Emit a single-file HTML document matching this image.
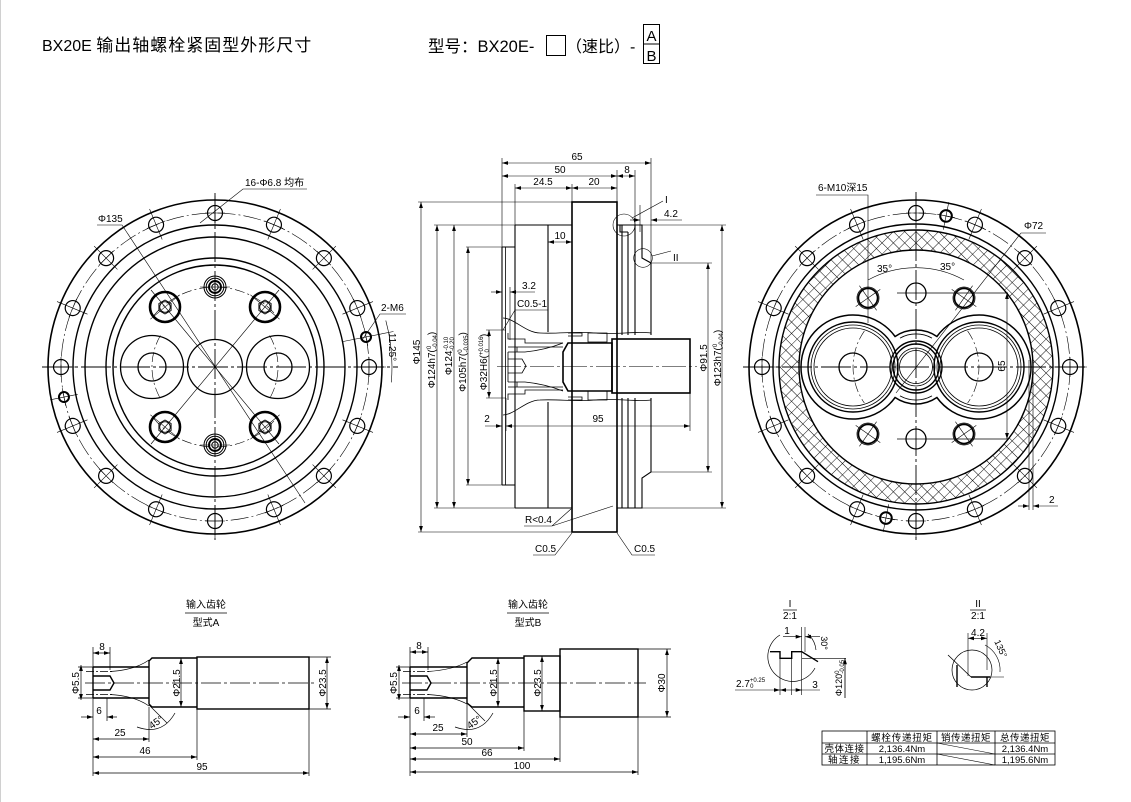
<!DOCTYPE html>
<html><head><meta charset="utf-8">
<style>
html,body{margin:0;padding:0;background:#fff;width:1131px;height:802px;overflow:hidden}
svg{display:block}
text{font-family:"Liberation Sans","Noto Sans CJK SC",sans-serif;fill:#000;stroke:none}
.d{font-size:10px}
.t{font-size:9.5px}
</style></head><body>
<svg width="1131" height="802" viewBox="0 0 1131 802" xmlns="http://www.w3.org/2000/svg">
<defs>
<marker id="a" viewBox="0 0 10 10" refX="10" refY="5" markerWidth="6" markerHeight="6" orient="auto-start-reverse" markerUnits="userSpaceOnUse"><path d="M0,1.8 L10,5 L0,8.2z" fill="#000" stroke="none"/></marker>
<pattern id="h" width="8" height="8" patternUnits="userSpaceOnUse" patternTransform="rotate(45)"><path d="M0,0 H8 M0,0 V8" stroke="#000" stroke-width="0.9" fill="none"/></pattern>
<g id="bh"><circle cx="154" cy="0" r="7.5" fill="none" stroke="#000" stroke-width="1.2"/><path d="M138 0H171M154 -10V10" stroke="#000" stroke-width="0.6" fill="none"/></g>
<g id="th"><circle r="15" fill="none" stroke="#000" stroke-width="2.6"/><polygon points="0,-7 6.1,-3.5 6.1,3.5 0,7 -6.1,3.5 -6.1,-3.5" fill="none" stroke="#000" stroke-width="0.9"/><circle r="5.3" fill="none" stroke="#000" stroke-width="0.9"/></g>
<g id="sh"><circle r="11" fill="none" stroke="#000" stroke-width="1"/><circle r="8.8" fill="none" stroke="#000" stroke-width="1"/><circle r="6" fill="none" stroke="#000" stroke-width="1.9"/><circle r="3.2" fill="none" stroke="#000" stroke-width="1"/><path d="M-15 0H15" stroke="#000" stroke-width="0.6"/></g>
<g id="ah"><circle r="11" fill="none" stroke="#000" stroke-width="0.8"/><circle r="9.6" fill="none" stroke="#000" stroke-width="1.7"/></g>
</defs>
<rect x="0" y="0" width="1131" height="802" fill="#fff"/>
<line x1="0.5" y1="0" x2="0.5" y2="802" stroke="#d0d0d0" stroke-width="1"/>

<!-- HEADER -->
<text x="42" y="51" font-size="16">BX20E <tspan font-size="17" letter-spacing="1">输出轴螺栓紧固型外形尺寸</tspan></text>
<text x="428" y="52" font-size="16.5">型号：BX20E-</text>
<rect x="546.5" y="35.5" width="19" height="20" fill="none" stroke="#000" stroke-width="1"/>
<text x="566" y="52" font-size="16">（速比）-</text>
<rect x="643.5" y="24.5" width="16" height="39" fill="none" stroke="#000" stroke-width="1"/>
<line x1="643.5" y1="44" x2="659.5" y2="44" stroke="#000" stroke-width="1"/>
<text x="651.5" y="41" font-size="15" text-anchor="middle">A</text>
<text x="651.5" y="61" font-size="15" text-anchor="middle">B</text>

<!-- LEFT VIEW -->
<g transform="translate(215,367)" fill="none" stroke="#000">
<circle r="167" stroke-width="1.6"/>
<circle r="142" stroke-width="1.4"/>
<circle r="130" stroke-width="1.4"/>
<circle r="109" stroke-width="1.4"/>
<circle r="102" stroke-width="1.4"/>
<circle r="154" stroke-width="0.6" stroke-dasharray="18 3 2 3"/>
<use href="#bh"/><use href="#bh" transform="rotate(22.5)"/><use href="#bh" transform="rotate(45)"/><use href="#bh" transform="rotate(67.5)"/>
<use href="#bh" transform="rotate(90)"/><use href="#bh" transform="rotate(112.5)"/><use href="#bh" transform="rotate(135)"/><use href="#bh" transform="rotate(157.5)"/>
<use href="#bh" transform="rotate(180)"/><use href="#bh" transform="rotate(202.5)"/><use href="#bh" transform="rotate(225)"/><use href="#bh" transform="rotate(247.5)"/>
<use href="#bh" transform="rotate(270)"/><use href="#bh" transform="rotate(292.5)"/><use href="#bh" transform="rotate(315)"/><use href="#bh" transform="rotate(337.5)"/>
<g transform="rotate(-11.25)"><circle cx="154" r="5" stroke-width="2"/><path d="M130 0H182M154 -9V9" stroke-width="0.6"/></g>
<g transform="rotate(168.75)"><circle cx="154" r="5" stroke-width="2"/><path d="M140 0H168M154 -9V9" stroke-width="0.6"/></g>
<path d="M-173 0H183M0 -174V173" stroke-width="0.9" stroke-dasharray="30 3 3 3"/>
<path d="M-61.3 -51.4A80 80 0 0 1 61.3 -51.4M-61.3 51.4A80 80 0 0 0 61.3 51.4" stroke-width="0.6" stroke-dasharray="10 3 2 3"/>
<path d="M-54.6 -31.5A63 63 0 0 0 -54.6 31.5M54.6 -31.5A63 63 0 0 1 54.6 31.5" stroke-width="0.6" stroke-dasharray="10 3 2 3"/>
<circle cx="-63" r="31.5" stroke-width="1.3"/><circle cx="-63" r="14" stroke-width="1.3"/>
<circle cx="63" r="31.5" stroke-width="1.3"/><circle cx="63" r="14" stroke-width="1.3"/>
<circle r="27.5" stroke-width="1.3"/>
<path d="M-64 -77L64 77M-64 77L64 -77" stroke-width="0.6"/>
<path d="M-64.6 -47.8L-35.4 -72.2M35.4 -72.2L64.6 -47.8M-64.6 47.8L-35.4 72.2M35.4 72.2L64.6 47.8" stroke-width="0.6"/>
<use href="#th" transform="translate(-50,-60)"/><use href="#th" transform="translate(50,-60)"/>
<use href="#th" transform="translate(-50,60)"/><use href="#th" transform="translate(50,60)"/>
<use href="#sh" transform="translate(0,-80)"/><use href="#sh" transform="translate(0,78)"/>
<path d="M170.8 -46.5A177 177 0 0 1 176.3 15.4" stroke-width="0.6"/>
</g>
<path d="M97 225H122L305 503" fill="none" stroke="#000" stroke-width="0.6"/>
<text x="98" y="222" class="d">Φ135</text>
<path d="M307 189H243L200 223" fill="none" stroke="#000" stroke-width="0.6"/>
<text x="245" y="186" class="d">16-Φ6.8 均布</text>
<path d="M406 314H380L362 340" fill="none" stroke="#000" stroke-width="0.6"/>
<text x="381" y="311" class="d">2-M6</text>
<text transform="translate(389,347) rotate(90)" class="d" text-anchor="middle">11.25°</text>

<!-- MIDDLE VIEW -->
<g fill="none" stroke="#000">
<g stroke-width="0.6">
<path d="M502 158V247M515 184V225M572 184V202M617 170V202M635 170V225M651 158V263"/>
<path d="M418 202H572M418 532H572M434 225H515M434 508H515M466 247H502M466 485H502M486 330H506M486 398H506"/>
<path d="M635 225H726M635 508H726M651 263H712M651 472H712"/>
<path d="M506 398V431M690 393V431"/>
<line x1="502" y1="163" x2="651" y2="163" marker-start="url(#a)" marker-end="url(#a)"/>
<line x1="502" y1="176" x2="617" y2="176" marker-start="url(#a)" marker-end="url(#a)"/>
<line x1="617" y1="176" x2="635" y2="176" marker-start="url(#a)" marker-end="url(#a)"/>
<line x1="515" y1="188" x2="572" y2="188" marker-start="url(#a)" marker-end="url(#a)"/>
<line x1="572" y1="188" x2="617" y2="188" marker-start="url(#a)" marker-end="url(#a)"/>
<line x1="548" y1="242" x2="572" y2="242" marker-start="url(#a)" marker-end="url(#a)"/>
<line x1="421" y1="202" x2="421" y2="532" marker-start="url(#a)" marker-end="url(#a)"/>
<line x1="437" y1="225" x2="437" y2="508" marker-start="url(#a)" marker-end="url(#a)"/>
<line x1="454" y1="225" x2="454" y2="508" marker-start="url(#a)" marker-end="url(#a)"/>
<line x1="468" y1="247" x2="468" y2="485" marker-start="url(#a)" marker-end="url(#a)"/>
<line x1="489" y1="330" x2="489" y2="398" marker-start="url(#a)" marker-end="url(#a)"/>
<line x1="708" y1="263" x2="708" y2="472" marker-start="url(#a)" marker-end="url(#a)"/>
<line x1="722" y1="225" x2="722" y2="508" marker-start="url(#a)" marker-end="url(#a)"/>
<line x1="485" y1="426" x2="502" y2="426" marker-end="url(#a)"/>
<line x1="506" y1="426" x2="690" y2="426" marker-start="url(#a)" marker-end="url(#a)"/>
<line x1="491" y1="292" x2="502" y2="292" marker-end="url(#a)"/>
<line x1="535" y1="292" x2="510" y2="292" marker-end="url(#a)"/>
<path d="M510 287V340"/>
<path d="M548 310H515L503 330"/>
<path d="M524 526H552L571 509M552 526L613 506"/>
<path d="M533 555H555L572 533M655 555H632L617 533"/>
<circle cx="624" cy="225" r="11"/>
<path d="M632 218L663 201"/>
<circle cx="643" cy="258" r="9.3"/>
<path d="M652 256L671 251"/>
<path d="M640 205V232"/>
<line x1="630" y1="220" x2="640" y2="220" marker-end="url(#a)"/>
<line x1="682" y1="220" x2="651" y2="220" marker-end="url(#a)"/>
<path d="M497 366.5H697" stroke-dasharray="24 3 3 3"/>
</g>
<g stroke-width="1.6">
<rect x="572" y="202" width="45" height="330"/>
<rect x="612" y="339" width="78" height="54"/>
<path d="M568 343H612V391H568L563 382V352Z"/>
</g>
<g stroke-width="1.1">
<path d="M515 225H572M515 508H572M515 225V508"/>
<path d="M548 225V332M548 402V508"/>
<path d="M502 247H515M502 485H515M502 247V485"/>
<path d="M617 225H642V258L651 263V335M651 398V472L642 478V508H617"/>
<path d="M622 225V335M622 398V508M628 232V335M628 398V508M635 225V335M635 398V508"/>
<path d="M620 225V232H628"/>
</g>
<g stroke-width="0.8">
<path d="M505.5 247V485"/>
<path d="M503 318C514 318 526 333 540 333C560 334 575 331 595 333C615 335 635 331 651 333"/>
<path d="M503 415C514 415 526 400 540 400C560 399 575 402 595 400C615 398 635 402 651 400"/>
<path d="M508 333V339H525V343H563M508 400V394H525V390H563"/>
<path d="M508 347H563M508 352H525M508 382H525M508 387H563"/>
<path d="M525 352Q545 350 563 343M525 382Q545 384 563 391"/>
<path d="M568 333H582V336H568M588 333H607V342H588ZM568 400H582V397H568M588 400H607V391H588Z"/>
<path d="M508 359H522L526 366L522 373H508"/>
<path d="M508 352V382M517 347V352M517 382V387"/>
</g>
</g>
<text x="577" y="160" class="d" text-anchor="middle">65</text>
<text x="560" y="173" class="d" text-anchor="middle">50</text>
<text x="627" y="173" class="d" text-anchor="middle">8</text>
<text x="543" y="185" class="d" text-anchor="middle">24.5</text>
<text x="594" y="185" class="d" text-anchor="middle">20</text>
<text x="560" y="239" class="d" text-anchor="middle">10</text>
<text x="529" y="289" class="d" text-anchor="middle">3.2</text>
<text x="517" y="307" class="d">C0.5-1</text>
<text x="487" y="422" class="d" text-anchor="middle">2</text>
<text x="598" y="422" class="d" text-anchor="middle">95</text>
<text x="525" y="523" class="d">R&lt;0.4</text>
<text x="535" y="552" class="d">C0.5</text>
<text x="634" y="552" class="d">C0.5</text>
<text x="665" y="203" class="d">I</text>
<text x="673" y="261" class="d">II</text>
<text x="664" y="217" class="d">4.2</text>
<text transform="translate(420,352) rotate(-90)" class="d" text-anchor="middle">Φ145</text>
<text transform="translate(435,360) rotate(-90)" class="d" text-anchor="middle">Φ124h7(<tspan font-size="6" dy="-4">0</tspan><tspan font-size="6" dx="-3" dy="6">-0.04</tspan><tspan dy="-2">)</tspan></text>
<text transform="translate(452,356) rotate(-90)" class="d" text-anchor="middle">Φ124<tspan font-size="6" dy="-4">-0.10</tspan><tspan font-size="6" dx="-14" dy="6">-0.20</tspan></text>
<text transform="translate(466,362) rotate(-90)" class="d" text-anchor="middle">Φ105h7(<tspan font-size="6" dy="-4">0</tspan><tspan font-size="6" dx="-3" dy="6">-0.035</tspan><tspan dy="-2">)</tspan></text>
<text transform="translate(487,362) rotate(-90)" class="d" text-anchor="middle">Φ32H6(<tspan font-size="6" dy="-4">+0.016</tspan><tspan font-size="6" dx="-16" dy="6">0</tspan><tspan dy="-2" dx="12">)</tspan></text>
<text transform="translate(707,358) rotate(-90)" class="d" text-anchor="middle">Φ91.5</text>
<text transform="translate(721,358) rotate(-90)" class="d" text-anchor="middle">Φ123h7(<tspan font-size="6" dy="-4">0</tspan><tspan font-size="6" dx="-3" dy="6">-0.04</tspan><tspan dy="-2">)</tspan></text>

<!-- RIGHT VIEW -->
<g transform="translate(916,367)" fill="none" stroke="#000">
<path d="M-137 0A137 137 0 1 0 137 0A137 137 0 1 0 -137 0ZM-117 0A117 117 0 1 0 117 0A117 117 0 1 0 -117 0Z" fill="url(#h)" fill-rule="evenodd" stroke="none"/>
<circle r="167" stroke-width="1.6"/>
<circle r="143" stroke-width="1.4"/>
<circle r="137" stroke-width="1.4"/>
<circle r="117" stroke-width="1.4"/>
<circle r="154" stroke-width="0.6" stroke-dasharray="18 3 2 3"/>
<use href="#bh"/><use href="#bh" transform="rotate(22.5)"/><use href="#bh" transform="rotate(45)"/><use href="#bh" transform="rotate(67.5)"/>
<use href="#bh" transform="rotate(90)"/><use href="#bh" transform="rotate(112.5)"/><use href="#bh" transform="rotate(135)"/><use href="#bh" transform="rotate(157.5)"/>
<use href="#bh" transform="rotate(180)"/><use href="#bh" transform="rotate(202.5)"/><use href="#bh" transform="rotate(225)"/><use href="#bh" transform="rotate(247.5)"/>
<use href="#bh" transform="rotate(270)"/><use href="#bh" transform="rotate(292.5)"/><use href="#bh" transform="rotate(315)"/><use href="#bh" transform="rotate(337.5)"/>
<g transform="rotate(-78.75)"><circle cx="154" r="5.8" stroke-width="2"/><path d="M140 0H168M154 -9V9" stroke-width="0.6"/></g>
<g transform="rotate(101.25)"><circle cx="154" r="5.8" stroke-width="2"/><path d="M140 0H168M154 -9V9" stroke-width="0.6"/></g>
<path d="M-173 0H172M0 -175V173" stroke-width="0.9" stroke-dasharray="30 3 3 3"/>
<path d="M-20.9 -30.5A37 37 0 0 1 20.9 -30.5A52 52 0 1 1 20.9 30.5A37 37 0 0 1 -20.9 30.5A52 52 0 1 1 -20.9 -30.5Z" stroke-width="1.5"/>
<path d="M-16 -28.9A33 33 0 0 1 16 -28.9M-16 28.9A33 33 0 0 0 16 28.9" stroke-width="0.9"/>
<circle cx="-63" r="45" stroke-width="1.4"/><circle cx="-63" r="42" stroke-width="0.8"/><circle cx="-63" r="39" stroke-width="0.8"/><circle cx="-63" r="14" stroke-width="1.3"/>
<circle cx="63" r="45" stroke-width="1.4"/><circle cx="63" r="42" stroke-width="0.8"/><circle cx="63" r="39" stroke-width="0.8"/><circle cx="63" r="14" stroke-width="1.3"/>
<circle r="26" stroke-width="1.4"/><circle r="23" stroke-width="1.4"/><circle r="19" stroke-width="0.8"/><circle r="16.5" stroke-width="0.8"/>
<path d="M-51.6 -36.1A63 63 0 0 0 -51.6 36.1M51.6 -36.1A63 63 0 0 1 51.6 36.1" stroke-width="0.6" stroke-dasharray="10 3 2 3"/>
<circle cx="0" cy="-74" r="10" stroke-width="1.3"/>
<circle cx="0" cy="72" r="10" stroke-width="1.3"/>
<use href="#ah" transform="translate(-48,-69)"/><use href="#ah" transform="translate(48,-69)"/>
<use href="#ah" transform="translate(-48,67)"/><use href="#ah" transform="translate(48,67)"/>
<path d="M-56.6 -81.3L-39.4 -56.7M-60.3 -60.4L-35.7 -77.6M56.6 -81.3L39.4 -56.7M60.3 -60.4L35.7 -77.6" stroke-width="0.6"/>
<path d="M-56.6 79.3L-39.4 54.7M-60.3 58.4L-35.7 75.6M56.6 79.3L39.4 54.7M60.3 58.4L35.7 75.6" stroke-width="0.6"/>
<path d="M-19 -74H92M-19 72H92" stroke-width="0.8"/>
<path d="M-48 -87A99.4 99.4 0 0 1 48 -87" stroke-width="0.6"/>
<path d="M113 -7V143M117 -7V143" stroke-width="0.6"/>
</g>
<g fill="none" stroke="#000" stroke-width="0.6">
<line x1="1007" y1="293" x2="1007" y2="439" marker-start="url(#a)" marker-end="url(#a)"/>
<path d="M816 195H868V323"/>
<path d="M1046 233H1021L896 393"/>
<line x1="1018" y1="506" x2="1029" y2="506" marker-end="url(#a)"/>
<line x1="1058" y1="506" x2="1033" y2="506" marker-end="url(#a)"/>
</g>
<text transform="translate(1005,366) rotate(-90)" class="d" text-anchor="middle">65</text>
<text x="818" y="191" class="d">6-M10深15</text>
<text x="1024" y="229" class="d">Φ72</text>
<text x="877" y="272" class="d">35°</text>
<text x="940" y="270" class="d">35°</text>
<text x="1049" y="503" class="d">2</text>

<!-- BOTTOM LEFT: TYPE A -->
<text x="206" y="608" class="d" text-anchor="middle">输入齿轮</text>
<line x1="185" y1="613" x2="227" y2="613" stroke="#000" stroke-width="0.7"/>
<text x="206" y="626" class="d" text-anchor="middle">型式A</text>
<g fill="none" stroke="#000">
<g stroke-width="1.4">
<rect x="197" y="657" width="112" height="52"/>
<path d="M197 658H152L149 661V704L152 707H197"/>
<path d="M93 667H149M93 698H149M93 667V698"/>
<path d="M93 676H110L114 683L110 690H93"/>
</g>
<g stroke-width="0.7">
<path d="M110 671.5Q135 670 149 660M110 694.5Q135 696 149 706"/>
<path d="M86 671.5H112M86 694.5H112" stroke-dasharray="8 2 2 2"/>
<path d="M85 683H316" stroke-dasharray="20 3 3 3"/>
<path d="M93 647V776M110 647V670M107 698V721M149 707V742M197 709V760M309 709V776M309 657H331M309 709H331M78 667H93M78 698H93"/>
<line x1="93" y1="653" x2="110" y2="653" marker-start="url(#a)" marker-end="url(#a)"/>
<line x1="81" y1="665" x2="81" y2="700" marker-start="url(#a)" marker-end="url(#a)"/>
<line x1="81" y1="717" x2="93" y2="717" marker-end="url(#a)"/>
<line x1="117" y1="717" x2="107" y2="717" marker-end="url(#a)"/>
<line x1="93" y1="739" x2="149" y2="739" marker-start="url(#a)" marker-end="url(#a)"/>
<line x1="93" y1="757" x2="197" y2="757" marker-start="url(#a)" marker-end="url(#a)"/>
<line x1="93" y1="773" x2="309" y2="773" marker-start="url(#a)" marker-end="url(#a)"/>
<line x1="181" y1="658" x2="181" y2="707" marker-start="url(#a)" marker-end="url(#a)"/>
<line x1="327" y1="657" x2="327" y2="709" marker-start="url(#a)" marker-end="url(#a)"/>
<path d="M149 705L167 723M137 727Q162 736 175 713"/>
</g>
</g>
<text x="102" y="650" class="d" text-anchor="middle">8</text>
<text x="99" y="714" class="d" text-anchor="middle">6</text>
<text x="120" y="736" class="d" text-anchor="middle">25</text>
<text x="145" y="754" class="d" text-anchor="middle">46</text>
<text x="202" y="770" class="d" text-anchor="middle">95</text>
<text transform="translate(79,683) rotate(-90)" class="d" text-anchor="middle">Φ5.5</text>
<text transform="translate(180,683) rotate(-90)" class="d" text-anchor="middle">Φ21.5</text>
<text transform="translate(326,683) rotate(-90)" class="d" text-anchor="middle">Φ23.5</text>
<text transform="translate(158,725) rotate(-35)" class="d" text-anchor="middle">45°</text>

<!-- BOTTOM MIDDLE: TYPE B -->
<text x="528" y="608" class="d" text-anchor="middle">输入齿轮</text>
<line x1="507" y1="613" x2="549" y2="613" stroke="#000" stroke-width="0.7"/>
<text x="528" y="626" class="d" text-anchor="middle">型式B</text>
<g fill="none" stroke="#000">
<g stroke-width="1.4">
<rect x="560" y="649" width="78" height="68"/>
<rect x="524" y="656" width="36" height="55"/>
<path d="M524 658H472L467 663V703L472 707H524"/>
<path d="M410 667H467M410 698H467M410 667V698"/>
<path d="M410 676H427L431 683L427 690H410"/>
</g>
<g stroke-width="0.7">
<path d="M428 671.5Q452 670 467 662M428 694.5Q452 696 467 704"/>
<path d="M403 671.5H430M403 694.5H430" stroke-dasharray="8 2 2 2"/>
<path d="M402 683H646" stroke-dasharray="20 3 3 3"/>
<path d="M410 647V776M428 647V670M424 698V721M467 703V737M524 711V751M560 717V762M638 717V775M638 649H671M638 717H671M396 667H410M396 698H410"/>
<line x1="410" y1="652" x2="428" y2="652" marker-start="url(#a)" marker-end="url(#a)"/>
<line x1="399" y1="665" x2="399" y2="700" marker-start="url(#a)" marker-end="url(#a)"/>
<line x1="398" y1="717" x2="410" y2="717" marker-end="url(#a)"/>
<line x1="435" y1="717" x2="424" y2="717" marker-end="url(#a)"/>
<line x1="410" y1="734" x2="467" y2="734" marker-start="url(#a)" marker-end="url(#a)"/>
<line x1="410" y1="748" x2="524" y2="748" marker-start="url(#a)" marker-end="url(#a)"/>
<line x1="410" y1="759" x2="560" y2="759" marker-start="url(#a)" marker-end="url(#a)"/>
<line x1="410" y1="772" x2="638" y2="772" marker-start="url(#a)" marker-end="url(#a)"/>
<line x1="498" y1="658" x2="498" y2="707" marker-start="url(#a)" marker-end="url(#a)"/>
<line x1="542" y1="656" x2="542" y2="711" marker-start="url(#a)" marker-end="url(#a)"/>
<line x1="667" y1="649" x2="667" y2="717" marker-start="url(#a)" marker-end="url(#a)"/>
<path d="M467 703L485 721M455 727Q480 736 493 713"/>
</g>
</g>
<text x="419" y="649" class="d" text-anchor="middle">8</text>
<text x="417" y="714" class="d" text-anchor="middle">6</text>
<text x="438" y="731" class="d" text-anchor="middle">25</text>
<text x="467" y="745" class="d" text-anchor="middle">50</text>
<text x="487" y="756" class="d" text-anchor="middle">66</text>
<text x="522" y="769" class="d" text-anchor="middle">100</text>
<text transform="translate(397,683) rotate(-90)" class="d" text-anchor="middle">Φ5.5</text>
<text transform="translate(497,683) rotate(-90)" class="d" text-anchor="middle">Φ21.5</text>
<text transform="translate(541,683) rotate(-90)" class="d" text-anchor="middle">Φ23.5</text>
<text transform="translate(665,683) rotate(-90)" class="d" text-anchor="middle">Φ30</text>
<text transform="translate(476,725) rotate(-35)" class="d" text-anchor="middle">45°</text>

<!-- DETAIL I -->
<text x="790" y="607" class="d" text-anchor="middle">I</text>
<line x1="783" y1="610" x2="797" y2="610" stroke="#000" stroke-width="0.7"/>
<text x="790" y="619" class="d" text-anchor="middle">2:1</text>
<g fill="none" stroke="#000">
<path d="M780 635A25 25 0 1 0 815 668" stroke-width="0.7"/>
<path d="M808 634A25 25 0 0 1 816 650" stroke-width="0.7"/>
<path d="M770 651.7H780V658.3H791.7V651.7H801.7L818 661.7" stroke-width="1.4"/>
<g stroke-width="0.6">
<path d="M780 658V695M791.7 658V695M801.7 627V695M805 627V652M801.7 658.3H846M845 658V698"/>
<line x1="783" y1="636.7" x2="801.7" y2="636.7" marker-end="url(#a)"/>
<line x1="820" y1="636.7" x2="805" y2="636.7" marker-end="url(#a)"/>
<line x1="735" y1="690" x2="780" y2="690" marker-end="url(#a)"/>
<line x1="780" y1="690" x2="791.7" y2="690" marker-start="url(#a)"/>
<line x1="791.7" y1="690" x2="801.7" y2="690" marker-end="url(#a)"/>
<path d="M801.7 690H820"/>
<line x1="845" y1="698" x2="845" y2="658.3" marker-end="url(#a)"/>
</g>
</g>
<text x="787" y="634" class="d" text-anchor="middle">1</text>
<text transform="translate(821,643) rotate(90)" font-size="9" text-anchor="middle">30°</text>
<text x="736" y="687" class="d">2.7<tspan font-size="6" dy="-5">+0.25</tspan><tspan font-size="6" dx="-15" dy="6">0</tspan></text>
<text x="815" y="688" class="d" text-anchor="middle">3</text>
<text transform="translate(842,678) rotate(-90)" font-size="9" text-anchor="middle">Φ120<tspan font-size="6" dy="-3">0</tspan><tspan font-size="6" dx="-3" dy="5">-0.05</tspan></text>

<!-- DETAIL II -->
<text x="978" y="607" class="d" text-anchor="middle">II</text>
<line x1="970" y1="610" x2="986" y2="610" stroke="#000" stroke-width="0.7"/>
<text x="978" y="619" class="d" text-anchor="middle">2:1</text>
<g fill="none" stroke="#000">
<circle cx="972" cy="670" r="20" stroke-width="0.7"/>
<path d="M948 655L971 677" stroke-width="0.8"/>
<path d="M957 665V687M971 677H990M987 677V687" stroke-width="1.4"/>
<g stroke-width="0.6">
<path d="M968 633V676M987 633V670"/>
<line x1="968" y1="638.3" x2="987" y2="638.3" marker-start="url(#a)" marker-end="url(#a)"/>
<path d="M985 645A28 28 0 0 1 1000 672"/>
<path d="M987 677H1004"/>
</g>
</g>
<text x="978" y="636" class="d" text-anchor="middle">4.2</text>
<text transform="translate(998,650) rotate(65)" font-size="9" text-anchor="middle">135°</text>

<!-- TABLE -->
<g fill="none" stroke="#000" stroke-width="0.8">
<rect x="822" y="731" width="233" height="34"/>
<path d="M822 743H1055M822 754H1055M867 731V765M937 731V765M995 731V765"/>
<path d="M937 743L995 754M937 754L995 765" stroke-width="0.6"/>
</g>
<g class="t">
<text x="902" y="741" text-anchor="middle" letter-spacing="0.8">螺栓传递扭矩</text>
<text x="966" y="741" text-anchor="middle" letter-spacing="0.5">销传递扭矩</text>
<text x="1025" y="741" text-anchor="middle" letter-spacing="0.5">总传递扭矩</text>
<text x="844.5" y="752" text-anchor="middle" letter-spacing="0.5">壳体连接</text>
<text x="902" y="752" text-anchor="middle">2,136.4Nm</text>
<text x="1025" y="752" text-anchor="middle">2,136.4Nm</text>
<text x="844.5" y="763" text-anchor="middle" letter-spacing="1.5">轴连接</text>
<text x="902" y="763" text-anchor="middle">1,195.6Nm</text>
<text x="1025" y="763" text-anchor="middle">1,195.6Nm</text>
</g>
</svg>
</body></html>
